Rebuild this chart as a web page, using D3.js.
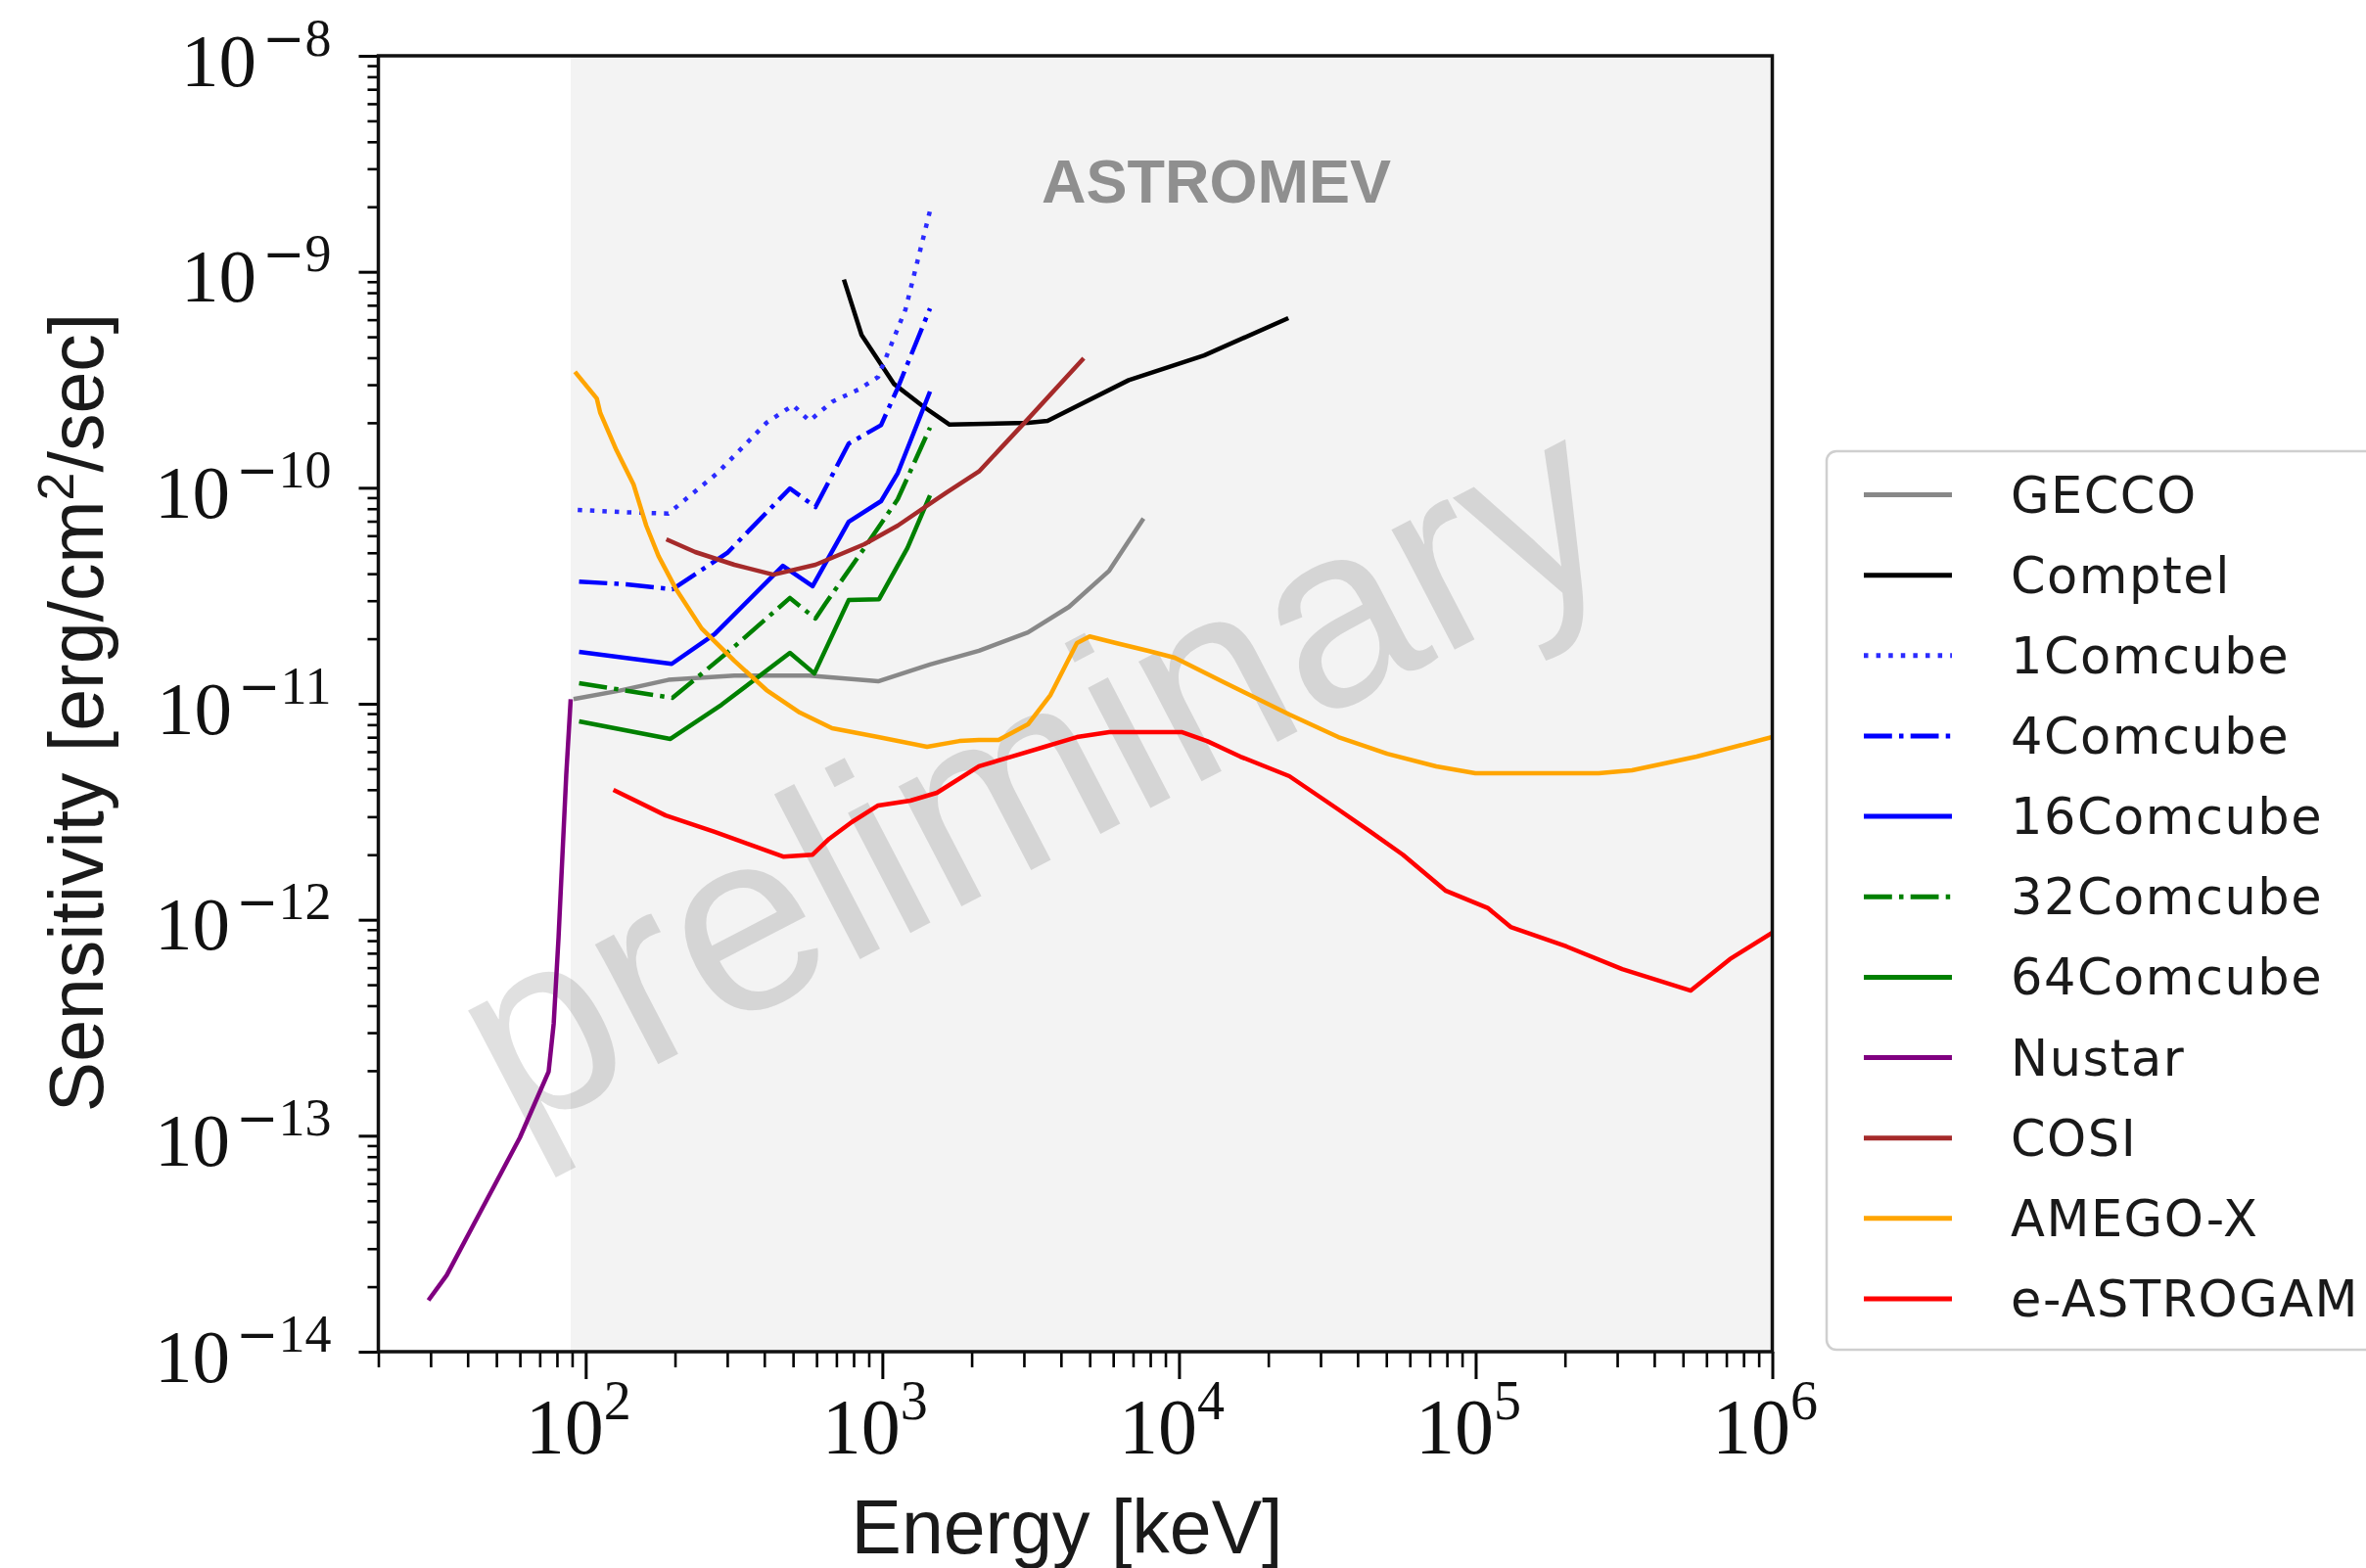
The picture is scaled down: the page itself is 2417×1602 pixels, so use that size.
<!DOCTYPE html>
<html>
<head>
<meta charset="utf-8">
<title>Sensitivity vs energy</title>
<script src="https://cdn.jsdelivr.net/npm/d3@7/dist/d3.min.js"></script>
<style>
  html, body { margin: 0; padding: 0; background: #fff; }
  #chart svg { display: block; }
</style>
</head>
<body>
<div id="chart"></div>
<script>
// axis ranges and ticks
const energyRange = [20, 1e6];
const sensitivityRange = [1e-14, 1e-8];
const bandStart = 89; // keV, where the grey ASTROMEV band begins
const energyTicks = [1e2, 1e3, 1e4, 1e5, 1e6];
const energyTickExponents = ["2", "3", "4", "5", "6"];
const sensitivityTicks = [1e-14, 1e-13, 1e-12, 1e-11, 1e-10, 1e-9, 1e-8];
const sensitivityTickExponents = ["\u221214", "\u221213", "\u221212", "\u221211", "\u221210", "\u22129", "\u22128"];

// instruments, in legend order
const instruments = ["GECCO", "Comptel", "1Comcube", "4Comcube", "16Comcube", "32Comcube", "64Comcube", "Nustar", "COSI", "AMEGO-X", "e-ASTROGAM"];

// energy [keV] and sensitivity [erg/cm2/sec]
const geccoEnergy = [91, 130, 190, 317, 568, 968, 1448, 2117, 3096, 4259, 5818, 7592];
const geccoSens = [1.05e-11, 1.15e-11, 1.29e-11, 1.35e-11, 1.35e-11, 1.27e-11, 1.52e-11, 1.76e-11, 2.14e-11, 2.81e-11, 4.13e-11, 7.2e-11];

const comptelEnergy = [742, 851, 1093, 1373, 1685, 3096, 3605, 6771, 12155, 23370];
const comptelSens = [9.2e-10, 5.1e-10, 3.03e-10, 2.38e-10, 1.96e-10, 2.0e-10, 2.04e-10, 3.15e-10, 4.1e-10, 6.1e-10];

const comcube1Energy = [94, 137, 190, 278, 407, 500, 568, 677, 831, 968, 1197, 1448];
const comcube1Sens = [7.9e-11, 7.7e-11, 7.6e-11, 1.17e-10, 2.0e-10, 2.41e-10, 2.04e-10, 2.5e-10, 2.85e-10, 3.26e-10, 6.7e-10, 1.92e-9];

const comcube4Energy = [95, 137, 196, 300, 488, 595, 770, 990, 1127, 1448];
const comcube4Sens = [3.68e-11, 3.57e-11, 3.39e-11, 4.99e-11, 9.93e-11, 8.14e-11, 1.6e-10, 1.95e-10, 2.9e-10, 6.77e-10];

const comcube16Energy = [95, 195, 272, 462, 582, 770, 990, 1127, 1448];
const comcube16Sens = [1.74e-11, 1.53e-11, 2.1e-11, 4.35e-11, 3.5e-11, 6.96e-11, 8.67e-11, 1.17e-10, 2.79e-10];

const comcube32Energy = [95, 196, 310, 488, 595, 642, 870, 1127, 1448];
const comcube32Sens = [1.245e-11, 1.064e-11, 1.79e-11, 3.09e-11, 2.48e-11, 2.9e-11, 5.26e-11, 8.85e-11, 1.9e-10];

const comcube64Energy = [95, 193, 287, 488, 590, 770, 975, 1215, 1448];
const comcube64Sens = [8.29e-12, 6.87e-12, 9.89e-12, 1.72e-11, 1.38e-11, 3.02e-11, 3.05e-11, 5.26e-11, 9.23e-11];

const nustarEnergy = [29.5, 34, 44, 60, 75, 78, 81, 86, 89];
const nustarSens = [1.73e-14, 2.26e-14, 4.4e-14, 9.8e-14, 1.98e-13, 3.3e-13, 8.3e-13, 4.7e-12, 1.05e-11];

const cosiEnergy = [187, 234, 317, 429, 595, 870, 1127, 1647, 2117, 3096, 4774];
const cosiSens = [5.77e-11, 5.04e-11, 4.4e-11, 3.96e-11, 4.4e-11, 5.48e-11, 6.68e-11, 9.52e-11, 1.19e-10, 2.08e-10, 3.98e-10];

const amegoEnergy = [92, 109, 112, 127, 145, 160, 176, 201, 246, 317, 407, 527, 677, 968, 1415, 1818, 2117, 2465, 3096, 3688, 4528, 5000, 6135, 7883, 9679, 14153, 23550, 34440, 50350, 73620, 99770, 259900, 336700, 555800, 1e6];
const amegoSens = [3.44e-10, 2.59e-10, 2.22e-10, 1.49e-10, 1.035e-10, 6.68e-11, 4.83e-11, 3.42e-11, 2.23e-11, 1.58e-11, 1.157e-11, 9.1e-12, 7.7e-12, 7.01e-12, 6.32e-12, 6.72e-12, 6.8e-12, 6.8e-12, 8.03e-12, 1.098e-11, 1.91e-11, 2.05e-11, 1.91e-11, 1.757e-11, 1.633e-11, 1.258e-11, 8.91e-12, 7.01e-12, 5.87e-12, 5.13e-12, 4.77e-12, 4.77e-12, 4.92e-12, 5.69e-12, 7.01e-12];

const astrogamEnergy = [124, 186, 272, 350, 463, 582, 662, 788, 968, 1243, 1527, 2117, 2720, 3523, 4528, 5818, 10200, 12430, 16100, 23550, 34440, 44250, 56850, 79400, 110200, 131200, 202300, 311900, 531100, 719600, 1e6];
const astrogamSens = [3.99e-12, 3.04e-12, 2.55e-12, 2.25e-12, 1.96e-12, 2.0e-12, 2.37e-12, 2.83e-12, 3.38e-12, 3.56e-12, 3.87e-12, 5.13e-12, 5.69e-12, 6.32e-12, 7.01e-12, 7.39e-12, 7.39e-12, 6.72e-12, 5.69e-12, 4.62e-12, 3.24e-12, 2.55e-12, 2.0e-12, 1.36e-12, 1.13e-12, 9.26e-13, 7.52e-13, 5.91e-13, 4.7e-13, 6.57e-13, 8.7e-13];

const curveData = {
  "GECCO": [geccoEnergy, geccoSens],
  "Comptel": [comptelEnergy, comptelSens],
  "1Comcube": [comcube1Energy, comcube1Sens],
  "4Comcube": [comcube4Energy, comcube4Sens],
  "16Comcube": [comcube16Energy, comcube16Sens],
  "32Comcube": [comcube32Energy, comcube32Sens],
  "64Comcube": [comcube64Energy, comcube64Sens],
  "Nustar": [nustarEnergy, nustarSens],
  "COSI": [cosiEnergy, cosiSens],
  "AMEGO-X": [amegoEnergy, amegoSens],
  "e-ASTROGAM": [astrogamEnergy, astrogamSens],
};

// matplotlib-like line styles
const lw = 4.5;
const dotted = `${lw},${lw * 1.8}`;
const dashdot = `${lw * 6.4},${lw * 1.6},${lw},${lw * 1.6}`;
const lineStyle = {
  "GECCO": { color: "#888888", dash: null },
  "Comptel": { color: "#000000", dash: null },
  "1Comcube": { color: "#2b2bff", dash: dotted },
  "4Comcube": { color: "#0000ff", dash: dashdot },
  "16Comcube": { color: "#0000ff", dash: null },
  "32Comcube": { color: "#008000", dash: dashdot },
  "64Comcube": { color: "#008000", dash: null },
  "Nustar": { color: "#800080", dash: null },
  "COSI": { color: "#a52a2a", dash: null },
  "AMEGO-X": { color: "#ffa500", dash: null },
  "e-ASTROGAM": { color: "#ff0000", dash: null },
};

const width = 2417;
const height = 1602;
const plot = { left: 386.5, right: 1810.5, top: 57, bottom: 1381 };

const svg = d3.select("#chart")
  .append("svg")
  .attr("width", width)
  .attr("height", height)
  .attr("viewBox", `0 0 ${width} ${height}`);

svg.append("rect").attr("width", width).attr("height", height).attr("fill", "#fff");

const x = d3.scaleLog().domain(energyRange).range([plot.left, plot.right]);
const y = d3.scaleLog().domain(sensitivityRange).range([plot.bottom, plot.top]);

// grey band
svg.append("rect")
  .attr("x", x(bandStart))
  .attr("y", plot.top)
  .attr("width", x(energyRange[1]) - x(bandStart))
  .attr("height", plot.bottom - plot.top)
  .attr("fill", "#f3f3f3");

svg.append("defs").append("clipPath").attr("id", "plot-clip")
  .append("rect")
  .attr("x", plot.left).attr("y", plot.top)
  .attr("width", plot.right - plot.left).attr("height", plot.bottom - plot.top);

// watermark, under the curves
svg.append("text")
  .attr("transform", "translate(527,1163) rotate(-27.5)")
  .attr("font-family", "Liberation Sans, Arial, sans-serif")
  .attr("font-size", 262)
  .attr("fill", "#000")
  .attr("fill-opacity", 0.12)
  .text("preliminary");

svg.append("text")
  .attr("x", 1064)
  .attr("y", 207)
  .attr("font-family", "Liberation Sans, Arial, sans-serif")
  .attr("font-weight", "bold")
  .attr("font-size", 63)
  .attr("fill", "#8f8f8f")
  .text("ASTROMEV");

// curves
const line = d3.line()
  .x((d) => x(d[0]))
  .y((d) => y(d[1]));

const series = instruments.map((name) => ({
  name,
  points: d3.zip(curveData[name][0], curveData[name][1]),
}));

svg.append("g")
  .attr("clip-path", "url(#plot-clip)")
  .selectAll("path")
  .data(series)
  .join("path")
  .attr("d", (d) => line(d.points))
  .attr("fill", "none")
  .attr("stroke", (d) => lineStyle[d.name].color)
  .attr("stroke-width", lw)
  .attr("stroke-linejoin", "round")
  .attr("stroke-dasharray", (d) => lineStyle[d.name].dash);

// minor tick positions (2..9 of each decade)
const minorOf = (lo, hi) => {
  const out = [];
  for (let p = Math.floor(Math.log10(lo)); p <= Math.ceil(Math.log10(hi)); p++) {
    for (let k = 2; k <= 9; k++) {
      const v = k * Math.pow(10, p);
      if (v >= lo * 0.999 && v <= hi * 1.001) out.push(v);
    }
  }
  return out;
};

const tickStyle = (g, w) => {
  g.select(".domain").remove();
  g.selectAll(".tick line").attr("stroke", "#000").attr("stroke-width", w);
  g.selectAll(".tick text").remove();
};

// x axis
svg.append("g")
  .attr("transform", `translate(0,${plot.bottom})`)
  .call(d3.axisBottom(x).tickValues(minorOf(...energyRange)).tickSize(16).tickFormat(""))
  .call((g) => tickStyle(g, 2.6));

const xMajor = svg.append("g")
  .attr("transform", `translate(0,${plot.bottom})`)
  .call(d3.axisBottom(x).tickValues(energyTicks).tickSize(28).tickFormat(""))
  .call((g) => tickStyle(g, 3));

xMajor.selectAll(".tick").each(function (d, i) {
  const t = d3.select(this).append("text")
    .attr("x", -8)
    .attr("y", 104)
    .attr("text-anchor", "middle")
    .attr("font-family", "Liberation Serif, Times New Roman, serif")
    .attr("font-size", 80)
    .attr("fill", "#111");
  t.append("tspan").text("10");
  t.append("tspan").attr("font-size", 56).attr("dy", -35).text(energyTickExponents[i]);
});

// y axis
svg.append("g")
  .attr("transform", `translate(${plot.left},0)`)
  .call(d3.axisLeft(y).tickValues(minorOf(...sensitivityRange)).tickSize(11).tickFormat(""))
  .call((g) => tickStyle(g, 2.6));

const yMajor = svg.append("g")
  .attr("transform", `translate(${plot.left},0)`)
  .call(d3.axisLeft(y).tickValues(sensitivityTicks).tickSize(20).tickFormat(""))
  .call((g) => tickStyle(g, 3));

yMajor.selectAll(".tick").each(function (d, i) {
  const exp = sensitivityTickExponents[i];
  const t = d3.select(this).append("text")
    .attr("x", -48)
    .attr("y", 30)
    .attr("text-anchor", "end")
    .attr("font-family", "Liberation Serif, Times New Roman, serif")
    .attr("font-size", 77)
    .attr("fill", "#111");
  t.append("tspan").text("10");
  t.append("tspan")
    .attr("font-family", "DejaVu Sans, sans-serif")
    .attr("font-size", 52)
    .attr("dx", 6)
    .attr("dy", -31)
    .text(exp.slice(0, 1));
  t.append("tspan").attr("font-size", 54).text(exp.slice(1));
});

// frame
svg.append("rect")
  .attr("x", plot.left)
  .attr("y", plot.top)
  .attr("width", plot.right - plot.left)
  .attr("height", plot.bottom - plot.top)
  .attr("fill", "none")
  .attr("stroke", "#111")
  .attr("stroke-width", 3.5);

// axis titles
svg.append("text")
  .attr("x", 1090)
  .attr("y", 1587)
  .attr("text-anchor", "middle")
  .attr("font-family", "Liberation Sans, Arial, sans-serif")
  .attr("font-size", 77)
  .attr("fill", "#1a1a1a")
  .text("Energy [keV]");

const yTitle = svg.append("text")
  .attr("transform", "translate(105,728) rotate(-90)")
  .attr("text-anchor", "middle")
  .attr("font-family", "Liberation Sans, Arial, sans-serif")
  .attr("font-size", 77)
  .attr("fill", "#1a1a1a");
yTitle.append("tspan").text("Sensitivity [erg/cm");
yTitle.append("tspan").attr("font-size", 52).attr("dy", -30).text("2");
yTitle.append("tspan").attr("dy", 30).text("/sec]");

// legend
const legend = svg.append("g");
legend.append("rect")
  .attr("x", 1866)
  .attr("y", 461)
  .attr("width", 700)
  .attr("height", 918)
  .attr("rx", 10)
  .attr("fill", "#fff")
  .attr("stroke", "#cfcfcf")
  .attr("stroke-width", 2.5);

const rowY = d3.scaleLinear().domain([0, instruments.length - 1]).range([505.5, 1327]);

const items = legend.selectAll("g.item")
  .data(instruments)
  .join("g")
  .attr("class", "item")
  .attr("transform", (d, i) => `translate(0,${rowY(i)})`);

items.append("line")
  .attr("x1", 1904)
  .attr("x2", 1994)
  .attr("stroke", (d) => lineStyle[d].color)
  .attr("stroke-width", lw + 0.5)
  .attr("stroke-dasharray", (d) => lineStyle[d].dash);

items.append("text")
  .attr("x", 2054)
  .attr("y", 18)
  .attr("font-family", "DejaVu Sans, sans-serif")
  .attr("font-size", 51)
  .attr("letter-spacing", 1.5)
  .attr("fill", "#1a1a1a")
  .text((d) => d);
</script>
</body>
</html>
